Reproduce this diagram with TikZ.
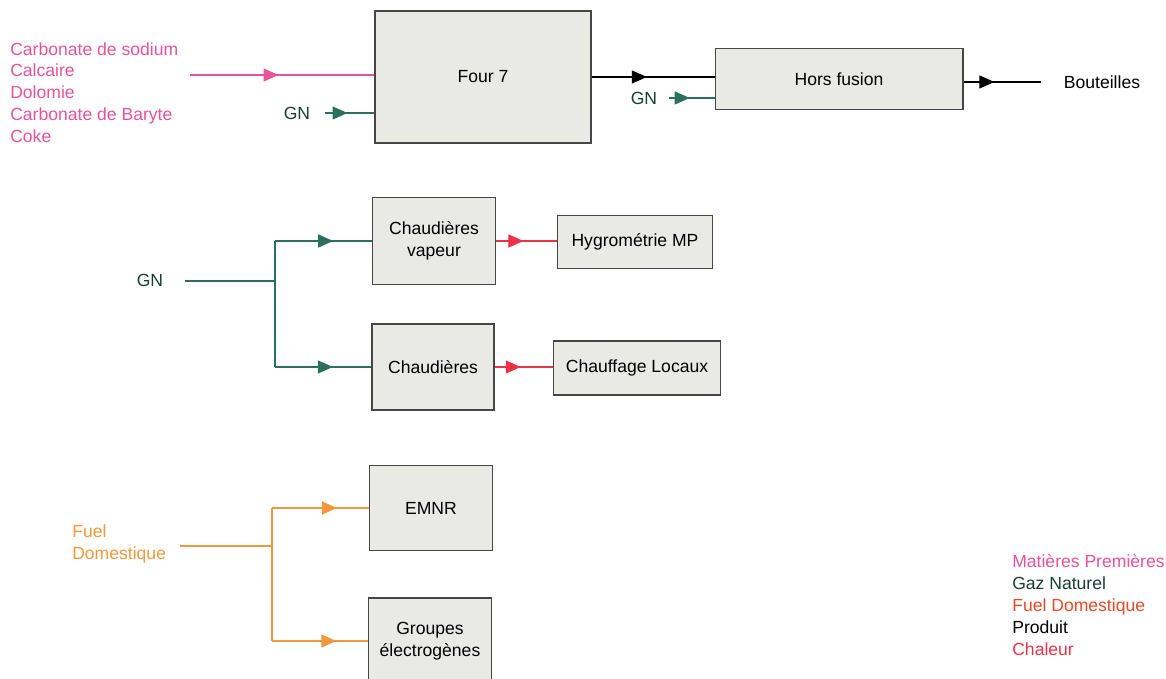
\documentclass[tikz,border=0pt]{standalone}
\usepackage{fontspec}
\setmainfont{Liberation Sans}
\usetikzlibrary{arrows.meta,decorations.markings}

\definecolor{mpcol}{RGB}{232,82,152}
\definecolor{gncol}{RGB}{42,112,92}
\definecolor{gntext}{RGB}{22,62,50}
\definecolor{fdcol}{RGB}{241,152,62}
\definecolor{fdtext}{RGB}{232,72,40}
\definecolor{chcol}{RGB}{236,50,72}
\definecolor{boxfill}{RGB}{233,233,230}
\definecolor{boxline}{RGB}{70,70,70}

\tikzset{
  unit/.style={draw=boxline, fill=boxfill, line width=0.6pt, align=center, font=\fontsize{10}{12.5}\selectfont},
  lbl/.style={font=\fontsize{10}{12.5}\selectfont, inner sep=1pt},
  flow/.style={postaction={decorate}, decoration={markings,
      mark=at position #1 with {\arrow{Triangle[length=3mm,width=2.6mm]}}}},
  flow/.default=0.5,
}

\begin{document}
\begin{tikzpicture}[x=0.02cm, y=-0.02cm, line width=0.6pt]
    \clip (0,0) rectangle (1166,679);

    % Four et hors fusion
    \node[unit, minimum width=4.32cm, minimum height=2.64cm] (four) at (483,77) {Four 7};
    \node[unit, minimum width=4.96cm, minimum height=1.22cm] (hf) at (839,79) {Hors fusion};

    \node[lbl, mpcol, align=left, anchor=north west] (mp) at (8,40)
        {Carbonate de sodium\\Calcaire\\Dolomie\\Carbonate de Baryte\\Coke};
    \node[lbl, gntext] (gn1) at (297,113) {GN};
    \node[lbl, gntext] (gn3) at (644,98) {GN};
    \node[lbl] (bout) at (1102,82) {Bouteilles};

    \coordinate (mpin) at (190,75);
    \draw[mpcol, flow=0.48] (mpin) -- (mpin -| four.west);
    \draw[gncol, flow=0.45] ([xshift=0.26cm]gn1.east) -- (gn1.east -| four.west);
    \draw[black, flow=0.45] (four.east) -- (four.east -| hf.west);
    \draw[gncol, flow=0.45] ([xshift=0.2cm]gn3.east) -- (gn3.east -| hf.west);
    \draw[black, flow=0.4] (hf.east |- bout.west) -- ([xshift=-0.42cm]bout.west);

    % Chaudieres (gaz naturel)
    \node[unit, minimum width=2.46cm, minimum height=1.74cm] (cv) at (434,241) {Chaudières\\vapeur};
    \node[unit, minimum width=3.1cm, minimum height=1.06cm] (hyg) at (635,242) {Hygrométrie MP};
    \node[unit, minimum width=2.44cm, minimum height=1.72cm] (ch) at (433,367) {Chaudières};
    \node[unit, minimum width=3.34cm, minimum height=1.08cm] (cl) at (637,368) {Chauffage Locaux};

    \node[lbl, gntext] (gn2) at (150,280) {GN};
    \coordinate (split2) at (275,281);

    \draw[gncol] ([xshift=0.4cm]gn2.east |- split2) -- (split2);
    \draw[gncol] (split2 |- cv.west) -- (split2 |- ch.west);
    \draw[gncol, flow=0.6] (split2 |- cv.west) -- (cv.west);
    \draw[gncol, flow=0.6] (split2 |- ch.west) -- (ch.west);
    \draw[chcol, flow=0.45] (cv.east) -- (cv.east -| hyg.west);
    \draw[chcol, flow=0.45] (ch.east) -- (ch.east -| cl.west);

    % Fuel domestique
    \node[unit, minimum width=2.46cm, minimum height=1.7cm] (emnr) at (431,508) {EMNR};
    \node[unit, minimum width=2.46cm, minimum height=1.84cm] (ge) at (430,644) {};
    \node[lbl, align=center] (getxt) at (430,641) {Groupes\\électrogènes};

    \node[lbl, fdcol, align=left, anchor=west] (fd) at (70,544) {Fuel\\Domestique};
    \coordinate (split3) at (272,546);

    \draw[fdcol] (180,546) -- (split3);
    \draw[fdcol] (split3 |- emnr.west) -- (split3 |- getxt.west);
    \draw[fdcol, flow=0.67] (split3 |- emnr.west) -- (emnr.west);
    \draw[fdcol, flow=0.67] (split3 |- getxt.west) -- (getxt.west -| ge.west);

    % Legende
    \node[lbl, align=left, anchor=north west] (leg) at (1010,552)
        {\textcolor{mpcol}{Matières Premières}\\
         \textcolor{gntext}{Gaz Naturel}\\
         \textcolor{fdtext}{Fuel Domestique}\\
         Produit\\
         \textcolor{chcol}{Chaleur}};
\end{tikzpicture}
\end{document}
